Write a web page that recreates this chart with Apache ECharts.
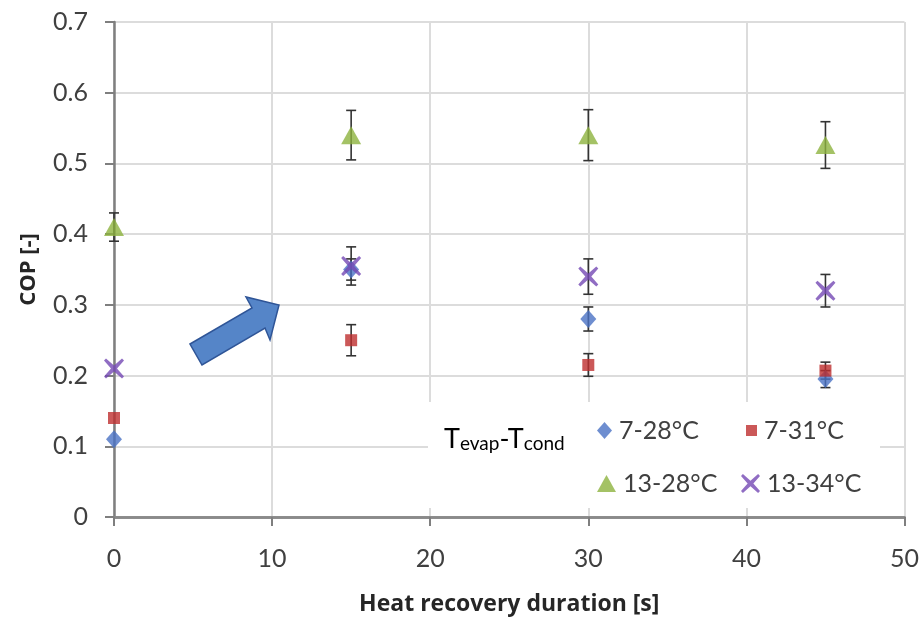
<!DOCTYPE html>
<html>
<head>
<meta charset="utf-8">
<script src="https://cdn.jsdelivr.net/npm/echarts@6/dist/echarts.min.js"></script>
<style>
  html, body { margin: 0; padding: 0; background: #fff; }
  #chart { width: 922px; height: 621px; }
</style>
</head>
<body>
<div id="chart"></div>
<script>
// heat recovery duration [s]
const durations = [0, 15, 30, 45];

// COP values per Tevap-Tcond pair
const cop7_28 = [0.11, 0.35, 0.28, 0.195];
const cop7_31 = [0.14, 0.25, 0.215, 0.207];
const cop13_28 = [0.41, 0.54, 0.54, 0.526];
const cop13_34 = [0.21, 0.355, 0.34, 0.32];

// half-width of the error bars
const err7_28 = [0, 0.015, 0.017, 0.012];
const err7_31 = [0, 0.022, 0.016, 0.012];
const err13_28 = [0.02, 0.035, 0.036, 0.033];
const err13_34 = [0, 0.027, 0.025, 0.023];

const seriesNames = ['7-28°C', '7-31°C', '13-28°C', '13-34°C'];
const xTicks = [0, 10, 20, 30, 40, 50];
const yTicks = [0, 0.1, 0.2, 0.3, 0.4, 0.5, 0.6, 0.7];

const FONT = 'Lato, "Noto Sans", sans-serif';
const TITLE_FONT = '"Open Sans", Lato, sans-serif';
const crossPath = 'path://M2,0 L10,7 L18,0 L20,2 L13,10 L20,18 L18,20 L10,13 L2,20 L0,18 L7,10 L0,2 Z';

function points(vals) {
  return durations.map((d, i) => [d, vals[i]]);
}

function errorData(vals, errs) {
  const out = [];
  durations.forEach((d, i) => {
    if (errs[i] > 0) out.push([d, vals[i] - errs[i], vals[i] + errs[i]]);
  });
  return out;
}

function errorSeries(vals, errs) {
  return {
    type: 'custom',
    z: 1,
    silent: true,
    data: errorData(vals, errs),
    encode: { x: 0, y: [1, 2] },
    renderItem: function (params, api) {
      const lo = api.coord([api.value(0), api.value(1)]);
      const hi = api.coord([api.value(0), api.value(2)]);
      const w = 5;
      const style = { stroke: '#333', lineWidth: 1.6 };
      return {
        type: 'group',
        children: [
          { type: 'line', shape: { x1: lo[0], y1: lo[1], x2: hi[0], y2: hi[1] }, style: style },
          { type: 'line', shape: { x1: lo[0] - w, y1: lo[1], x2: lo[0] + w, y2: lo[1] }, style: style },
          { type: 'line', shape: { x1: hi[0] - w, y1: hi[1], x2: hi[0] + w, y2: hi[1] }, style: style }
        ]
      };
    }
  };
}

function legendItem(name, left, top, w, h) {
  return {
    data: [name],
    left: left,
    top: top,
    itemWidth: w,
    itemHeight: h,
    itemGap: 0,
    padding: 0,
    textStyle: { fontFamily: FONT, fontSize: 25, color: '#404040', padding: [0, 0, 0, 2] }
  };
}

const chart = echarts.init(document.getElementById('chart'));

const option = {
  animation: false,
  textStyle: { fontFamily: FONT },
  grid: { left: 114, right: 17, top: 22, bottom: 104 },
  xAxis: [{
    type: 'value',
    min: xTicks[0],
    max: xTicks[xTicks.length - 1],
    interval: 10,
    name: 'Heat recovery duration [s]',
    nameLocation: 'middle',
    nameGap: 76,
    nameTextStyle: { fontFamily: TITLE_FONT, fontSize: 23, fontWeight: 'bold', color: '#262626' },
    axisLine: { onZero: false, lineStyle: { color: '#7f7f7f', width: 2.5 } },
    axisTick: { show: true, length: 9, lineStyle: { color: '#7f7f7f', width: 2 } },
    axisLabel: { margin: 29, fontSize: 25, color: '#404040', fontFamily: FONT },
    splitLine: { show: true, lineStyle: { color: '#dcdcdc', width: 2 } }
  }, {
    type: 'value',
    position: 'top',
    min: xTicks[0],
    max: xTicks[xTicks.length - 1],
    axisLine: { show: true, lineStyle: { color: '#8a8a8a', width: 2.5 } },
    axisTick: { show: false },
    axisLabel: { show: false },
    splitLine: { show: false }
  }],
  yAxis: {
    type: 'value',
    min: yTicks[0],
    max: yTicks[yTicks.length - 1],
    interval: 0.1,
    name: 'COP [-]',
    nameLocation: 'middle',
    nameRotate: 90,
    nameGap: 74,
    nameTextStyle: { fontFamily: TITLE_FONT, fontSize: 22, fontWeight: 'bold', color: '#262626' },
    axisLine: { show: true, lineStyle: { color: '#7f7f7f', width: 2.5 } },
    axisTick: { show: true, length: 9, lineStyle: { color: '#7f7f7f', width: 2 } },
    axisLabel: { margin: 26, fontSize: 25, color: '#404040', fontFamily: FONT },
    splitLine: { show: true, lineStyle: { color: '#dcdcdc', width: 2 } }
  },
  legend: [
    legendItem(seriesNames[0], 597, 418, 15, 17),
    legendItem(seriesNames[1], 746, 418, 11, 11),
    legendItem(seriesNames[2], 597, 471, 19, 17),
    legendItem(seriesNames[3], 741, 471, 19, 19)
  ],
  graphic: [{
    type: 'rect',
    z: 3,
    shape: { x: 428, y: 402, width: 452, height: 106 },
    style: { fill: '#fff' }
  }, {
    type: 'text',
    z: 5,
    left: 444,
    top: 426,
    style: {
      text: '{a|T}{b|evap}{a|-T}{b|cond}',
      rich: {
        a: { fontFamily: FONT, fontSize: 27, color: '#404040', lineHeight: 30, verticalAlign: 'bottom' },
        b: { fontFamily: FONT, fontSize: 19, color: '#404040', lineHeight: 12, verticalAlign: 'bottom' }
      }
    }
  }, {
    type: 'polygon',
    z: 5,
    shape: { points: [[190, 344], [252, 308], [246, 297], [279, 305], [270, 340], [265, 328], [202, 365]] },
    style: { fill: '#5585c8', stroke: '#2f5597', lineWidth: 1.5 }
  }],
  series: [
    errorSeries(cop7_28, err7_28),
    errorSeries(cop7_31, err7_31),
    errorSeries(cop13_28, err13_28),
    errorSeries(cop13_34, err13_34),
    {
      name: seriesNames[0], type: 'scatter', z: 3,
      symbol: 'diamond', symbolSize: [16, 18],
      itemStyle: { color: '#4a72c4' },
      data: points(cop7_28)
    },
    {
      name: seriesNames[1], type: 'scatter', z: 3,
      symbol: 'rect', symbolSize: 12,
      itemStyle: { color: '#be2e2e' },
      data: points(cop7_31)
    },
    {
      name: seriesNames[2], type: 'scatter', z: 3,
      symbol: 'triangle', symbolSize: [20, 18],
      itemStyle: { color: '#8db33f' },
      data: points(cop13_28)
    },
    {
      name: seriesNames[3], type: 'scatter', z: 4,
      symbol: crossPath, symbolSize: 20,
      itemStyle: { color: '#7448b4' },
      data: points(cop13_34)
    }
  ]
};

chart.setOption(option);
</script>
</body>
</html>
